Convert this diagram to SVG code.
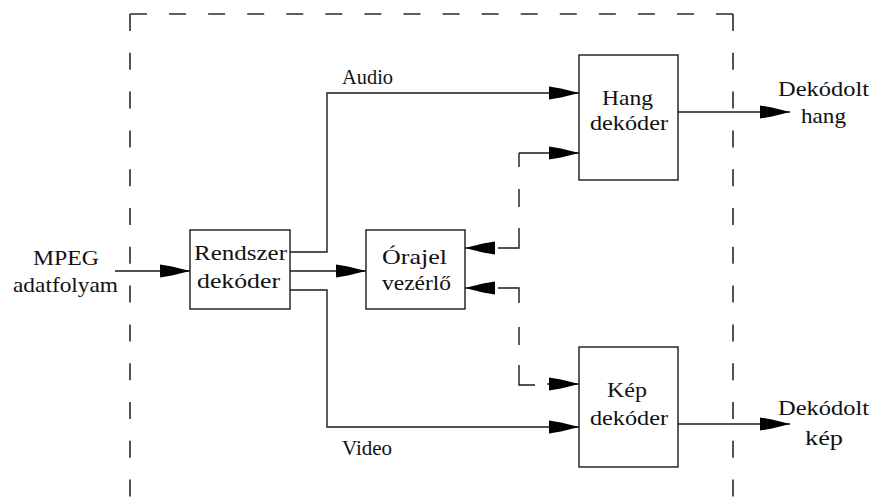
<svg xmlns="http://www.w3.org/2000/svg" width="873" height="499" viewBox="0 0 873 499">
  <style>
    .bg { fill: #ffffff; }
    .box { fill: #ffffff; stroke: #1a1a1a; stroke-width: 1.4; }
    .wire { fill: none; stroke: #1a1a1a; stroke-width: 1.4; }
    .arrow { fill: none; stroke: #1a1a1a; stroke-width: 1.4; marker-end: url(#head); }
    .frame { fill: none; stroke: #2a2a2a; stroke-width: 1.6; }
    text { font-family: "Liberation Serif", "Times New Roman", serif; font-size: 21px; fill: #111111; }
  </style>
  <defs>
    <marker id="head" viewBox="-31 -7 32 14" refX="0" refY="0" markerWidth="32" markerHeight="14" markerUnits="userSpaceOnUse" orient="auto">
      <path d="M0,0 L-6,-1.6 L-18,-4.6 L-30,-6.5 L-30,6.5 L-18,4.6 L-6,1.6 Z" fill="#000000"/>
    </marker>
  </defs>

  <rect class="bg" x="0" y="0" width="873" height="499"/>

  <!-- dashed system boundary -->
  <g id="boundary">
    <path class="frame" d="M130,14 H733" stroke-dasharray="17 22.07"/>
    <path class="frame" d="M130,14 V499" stroke-dasharray="17 21.8"/>
    <path class="frame" d="M733,14 V499" stroke-dasharray="17 21.8"/>
  </g>

  <!-- connectors -->
  <g id="connectors">
    <!-- input stream -->
    <line class="arrow" x1="115" y1="271" x2="190" y2="271"/>
    <!-- audio path -->
    <path class="arrow" d="M290,252 H327 V93 H579"/>
    <!-- system decoder to clock controller -->
    <line class="arrow" x1="290" y1="271" x2="366" y2="271"/>
    <!-- video path -->
    <path class="arrow" d="M290,290 H327 V427 H579"/>
    <!-- decoder outputs -->
    <line class="arrow" x1="678" y1="112" x2="790" y2="112"/>
    <line class="arrow" x1="678" y1="424" x2="790" y2="424"/>

    <!-- clock link to audio decoder (dashed) -->
    <line class="arrow" x1="519" y1="153" x2="579" y2="153"/>
    <line class="wire" x1="519" y1="153" x2="519" y2="167"/>
    <line class="wire" x1="519" y1="189" x2="519" y2="207"/>
    <polyline class="wire" points="519,228 519,248 498,248"/>
    <line class="arrow" x1="492" y1="248" x2="465" y2="248"/>

    <!-- clock link to video decoder (dashed) -->
    <line class="arrow" x1="492" y1="288" x2="465" y2="288"/>
    <polyline class="wire" points="498,288 519,288 519,303"/>
    <line class="wire" x1="519" y1="327" x2="519" y2="345"/>
    <polyline class="wire" points="519,365 519,385 535,385"/>
    <line class="arrow" x1="547" y1="384" x2="579" y2="384"/>
  </g>

  <!-- nodes -->
  <g id="rendszer">
    <rect class="box" x="190" y="230" width="100" height="79"/>
    <text x="194" y="260" textLength="93" lengthAdjust="spacingAndGlyphs">Rendszer</text>
    <text x="197" y="288" textLength="83" lengthAdjust="spacingAndGlyphs">dekóder</text>
  </g>

  <g id="orajel">
    <rect class="box" x="366" y="230" width="99" height="79"/>
    <text x="382" y="264" textLength="65" lengthAdjust="spacingAndGlyphs">Órajel</text>
    <text x="382" y="290" textLength="69" lengthAdjust="spacingAndGlyphs">vezérlő</text>
  </g>

  <g id="hang">
    <rect class="box" x="579" y="55" width="99" height="125"/>
    <text x="602" y="105" textLength="51" lengthAdjust="spacingAndGlyphs">Hang</text>
    <text x="590" y="130" textLength="78" lengthAdjust="spacingAndGlyphs">dekóder</text>
  </g>

  <g id="kep">
    <rect class="box" x="579" y="347" width="99" height="120"/>
    <text x="607" y="397" textLength="40" lengthAdjust="spacingAndGlyphs">Kép</text>
    <text x="590" y="425" textLength="78" lengthAdjust="spacingAndGlyphs">dekóder</text>
  </g>

  <!-- labels -->
  <g id="input-label">
    <text x="33" y="265" textLength="66" lengthAdjust="spacingAndGlyphs">MPEG</text>
    <text x="13" y="292" textLength="105" lengthAdjust="spacingAndGlyphs">adatfolyam</text>
  </g>
  <g id="audio-label">
    <text x="342" y="84" textLength="51" lengthAdjust="spacingAndGlyphs">Audio</text>
  </g>
  <g id="video-label">
    <text x="342" y="455" textLength="50" lengthAdjust="spacingAndGlyphs">Video</text>
  </g>
  <g id="hang-out-label">
    <text x="778" y="96" textLength="91" lengthAdjust="spacingAndGlyphs">Dekódolt</text>
    <text x="801" y="123" textLength="45" lengthAdjust="spacingAndGlyphs">hang</text>
  </g>
  <g id="kep-out-label">
    <text x="778" y="415" textLength="91" lengthAdjust="spacingAndGlyphs">Dekódolt</text>
    <text x="805" y="445" textLength="38" lengthAdjust="spacingAndGlyphs">kép</text>
  </g>
</svg>
